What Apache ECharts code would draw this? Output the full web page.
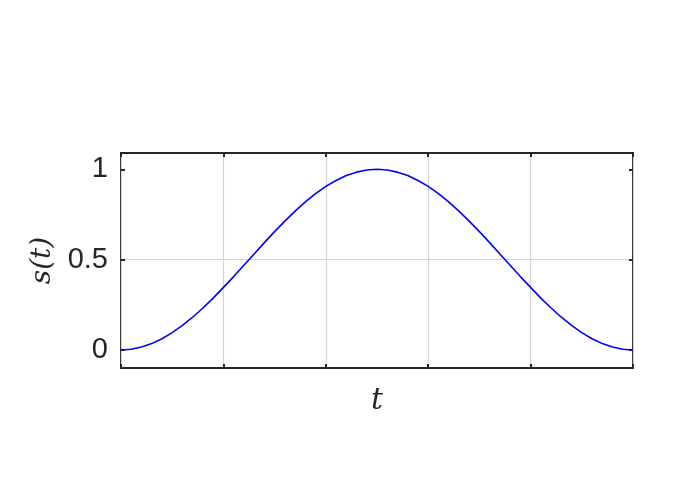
<!DOCTYPE html>
<html><head><meta charset="utf-8">
<script src="https://cdn.jsdelivr.net/npm/echarts@6/dist/echarts.min.js"></script>
<style>html,body{margin:0;padding:0;background:#fff}#c{width:700px;height:495px}</style>
</head><body><div id="c"></div>
<script>
var tValues = [0,0.02,0.04,0.06,0.08,0.10,0.12,0.14,0.16,0.18,0.20,0.22,0.24,0.26,0.28,0.30,0.32,0.34,0.36,0.38,0.40,0.42,0.44,0.46,0.48,0.50,0.52,0.54,0.56,0.58,0.60,0.62,0.64,0.66,0.68,0.70,0.72,0.74,0.76,0.78,0.80,0.82,0.84,0.86,0.88,0.90,0.92,0.94,0.96,0.98,1.00];
var sValues = [0,0.004,0.016,0.035,0.062,0.096,0.136,0.181,0.232,0.287,0.346,0.406,0.469,0.531,0.594,0.655,0.713,0.768,0.819,0.865,0.905,0.938,0.965,0.984,0.996,1.000,0.996,0.984,0.965,0.938,0.905,0.865,0.819,0.768,0.713,0.655,0.594,0.531,0.469,0.406,0.346,0.287,0.232,0.181,0.136,0.096,0.062,0.035,0.016,0.004,0];
var yTickLabels = [0, 0.5, 1];
var xTicks = [0, 0.2, 0.4, 0.6, 0.8, 1];

var data = tValues.map(function(t,i){return [t, sValues[i]];});
var txt = '#262626';
var gridC = '#d4d4d4';
var chart = echarts.init(document.getElementById('c'));
function yAx(pos, labels){
  return {
    type:'value', position:pos, min:-0.1, max:1.09, interval:0.1,
    axisLine:{show:false, onZero:false},
    axisTick:{show:true, inside:true, length:4, customValues:yTickLabels, lineStyle:{color:txt,width:2}},
    axisLabel:{show:labels, customValues:yTickLabels, margin:13, color:txt, fontSize:29, fontFamily:'Liberation Sans, Arial, sans-serif',
      formatter:function(v){return String(Math.round(v*10)/10);}},
    splitLine:{show:pos==='left', lineStyle:{color:['transparent',gridC,'transparent','transparent','transparent'], width:1.2}},
    name: labels ? 's(t)' : '', nameLocation:'middle', nameRotate:90, nameGap:64,
    nameTextStyle:{fontFamily:'DejaVu Serif, Liberation Serif, serif', fontStyle:'italic', fontSize:28, color:txt}
  };
}
function xAx(pos, labels){
  return {
    type:'value', position:pos, min:0, max:1, interval:0.2,
    axisLine:{show:false, onZero:false},
    axisTick:{show:true, inside:true, length:4, customValues:xTicks, lineStyle:{color:txt,width:2}},
    axisLabel:{show:false},
    splitLine:{show:pos==='bottom', lineStyle:{color:gridC, width:1.2}},
    name: labels ? 't' : '', nameLocation:'middle', nameGap:18,
    nameTextStyle:{fontFamily:'DejaVu Serif, Liberation Serif, serif', fontStyle:'italic', fontSize:30, color:txt}
  };
}
chart.setOption({
  animation:false,
  grid:{left:121, top:153, right:67, bottom:127, show:true, borderColor:txt, borderWidth:2, backgroundColor:'transparent'},
  xAxis:[xAx('bottom',true), xAx('top',false)],
  yAxis:[yAx('left',true), yAx('right',false)],
  series:[{type:'line', data:data, showSymbol:false, smooth:false, lineStyle:{color:'#0000ff', width:1.6}, xAxisIndex:0, yAxisIndex:0}]
});
</script></body></html>
